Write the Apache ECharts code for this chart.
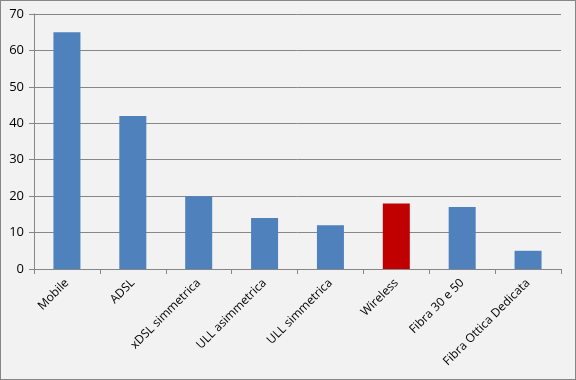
<!DOCTYPE html>
<html><head><meta charset="utf-8">
<script src="https://cdn.jsdelivr.net/npm/echarts@6/dist/echarts.min.js"></script>
<style>
html,body{margin:0;padding:0;background:#f2f2f2;}
#c{width:576px;height:380px;box-sizing:border-box;border:1px solid #868686;}
</style></head>
<body><div id="c"></div>
<script>
const categories = ["Mobile","ADSL","xDSL simmetrica","ULL asimmetrica","ULL simmetrica","Wireless","Fibra 30 e 50","Fibra Ottica Dedicata"];
const values = [65, 42, 20, 14, 12, 18, 17, 5];
const highlightIndex = 5;
const yTicks = {min: 0, max: 70, interval: 10};

const chart = echarts.init(document.getElementById('c'), null, {renderer: 'canvas'});
const font = "'Open Sans', 'Liberation Sans', sans-serif";
chart.setOption({
  backgroundColor: '#f2f2f2',
  animation: false,
  grid: {left: 33, right: 14, top: 13, bottom: 110, containLabel: false},
  xAxis: {
    type: 'category', data: categories,
    axisLine: {show: true, lineStyle: {color: '#868686', width: 1}},
    axisTick: {show: true, alignWithLabel: false, length: 5, lineStyle: {color: '#868686'}},
    axisLabel: {rotate: 45, margin: 12, color: '#000', fontSize: 12, fontFamily: font, interval: 0}
  },
  yAxis: {
    type: 'value', min: yTicks.min, max: yTicks.max, interval: yTicks.interval,
    axisLine: {show: true, lineStyle: {color: '#868686', width: 1}},
    axisTick: {show: true, length: 5, lineStyle: {color: '#868686'}},
    splitLine: {show: true, lineStyle: {color: '#868686', width: 1}},
    axisLabel: {margin: 10, color: '#000', fontSize: 13, fontFamily: font}
  },
  series: [{
    type: 'bar', barWidth: 27,
    data: values.map((v, i) => ({value: v, itemStyle: {color: i === highlightIndex ? '#c00000' : '#4f81bd'}}))
  }]
});
</script></body></html>
